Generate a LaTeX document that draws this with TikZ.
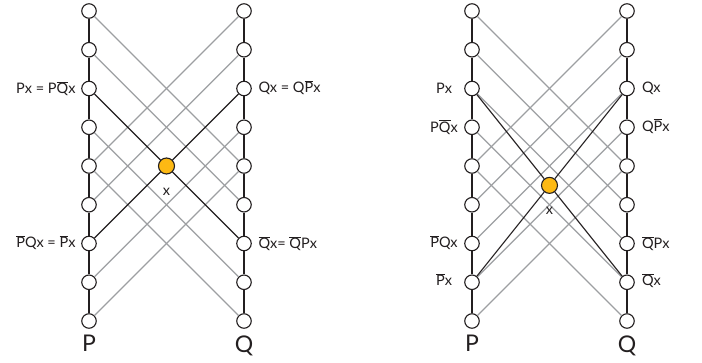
\documentclass[tikz,border=0pt]{standalone}
\usepackage{fontspec}
\setmainfont{Lato}
\usetikzlibrary{positioning,calc}

\definecolor{dotorange}{HTML}{FDB913}
\definecolor{linegray}{HTML}{9D9FA2}
\definecolor{coldark}{HTML}{231F20}

% letter with a short bar over it
\newcommand{\ov}[1]{\smash{$\overline{\mbox{#1}}$}}

\tikzset{
  vtx/.style={circle, draw=coldark, line width=1.1pt, fill=white, minimum size=14.5pt, inner sep=0pt},
  xvtx/.style={vtx, fill=dotorange, minimum size=16pt},
  column/.style={coldark, line width=2.8pt},
  gray line/.style={linegray, line width=1.1pt},
  main line/.style={coldark, line width=1.1pt},
  lbl/.style={font=\fontsize{14.5}{14.5}\selectfont, inner sep=0pt, text=coldark},
  letter/.style={font=\fontsize{23}{23}\selectfont, inner sep=0pt, text=coldark},
}

\begin{document}
\begin{tikzpicture}[x=1pt,y=-1pt]
\useasboundingbox (0,0) rectangle (702,362);

% the two columns of each diagram
\foreach \i in {0,...,8} {
  \node[vtx] (ap\i) at (89,11+38.75*\i) {};
  \node[vtx] (aq\i) at (244,11+38.75*\i) {};
  \node[vtx] (bp\i) at (472,11+38.75*\i) {};
  \node[vtx] (bq\i) at (627,11+38.75*\i) {};
}
\foreach \i [evaluate=\i as \j using int(\i+1)] in {0,...,7} {
  \draw[column] (ap\i) -- (ap\j);
  \draw[column] (aq\i) -- (aq\j);
  \draw[column] (bp\i) -- (bp\j);
  \draw[column] (bq\i) -- (bq\j);
}

% gray links
\foreach \i [evaluate=\i as \j using int(\i+4)] in {0,1,3,4} {
  \draw[gray line] (ap\i) -- (aq\j);
  \draw[gray line] (aq\i) -- (ap\j);
}
\foreach \i [evaluate=\i as \j using int(\i+4)] in {0,...,4} {
  \draw[gray line] (bp\i) -- (bq\j);
  \draw[gray line] (bq\i) -- (bp\j);
}

% the point x
\node[xvtx] (ax) at ($(ap2)!0.5!(aq6)$) {};
\node[xvtx] (bx) at ($(bp2)!0.5!(bq7)$) {};
\draw[main line] (ap2) -- (ax) -- (aq6);
\draw[main line] (aq2) -- (ax) -- (ap6);
\draw[main line] (bp2) -- (bx) -- (bq7);
\draw[main line] (bq2) -- (bx) -- (bp7);
\node[lbl] at ([yshift=-25.5pt]ax) {x};
\node[lbl] at ([yshift=-25.5pt]bx) {x};

% labels, left diagram
\node[lbl, anchor=east] at ([xshift=-5.5pt]ap2.west) {Px = P\ov{Q}x};
\node[lbl, anchor=east] at ([xshift=-5.5pt]ap6.west) {\ov{P}Qx = \ov{P}x};
\node[lbl, anchor=west] at ([xshift=6.5pt]aq2.east) {Qx = Q\ov{P}x};
\node[lbl, anchor=west] at ([xshift=6.5pt]aq6.east) {\ov{Q}x= \ov{Q}Px};
\node[letter, below=6.5pt of ap8] {P};
\node[letter, below=6.5pt of aq8] {Q};

% labels, right diagram
\node[lbl] at ([xshift=-28pt]bp2) {Px};
\node[lbl] at ([xshift=-28pt]bp3) {P\ov{Q}x};
\node[lbl] at ([xshift=-28pt]bp6) {\ov{P}Qx};
\node[lbl] at ([xshift=-28pt]bp7) {\ov{P}x};
\node[lbl, anchor=west] at ([xshift=7pt]bq2.east) {Qx};
\node[lbl, anchor=west] at ([xshift=7pt]bq3.east) {Q\ov{P}x};
\node[lbl, anchor=west] at ([xshift=7pt]bq6.east) {\ov{Q}Px};
\node[lbl, anchor=west] at ([xshift=7pt]bq7.east) {\ov{Q}x};
\node[letter, below=6.5pt of bp8] {P};
\node[letter, below=6.5pt of bq8] {Q};
\end{tikzpicture}
\end{document}
